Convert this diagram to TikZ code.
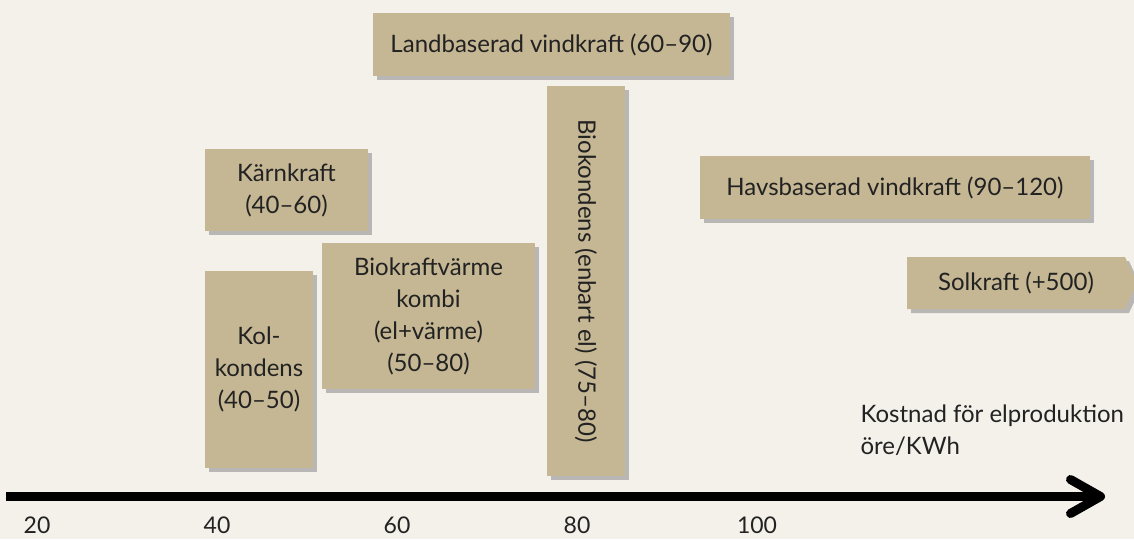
\documentclass[tikz,border=0pt]{standalone}
\usepackage{fontspec}
\setmainfont{Lato}
\usepackage{tikz}
\usetikzlibrary{arrows.meta, positioning, shapes.symbols, shadows}
\definecolor{paper}{HTML}{F4F1EA}
\definecolor{sand}{HTML}{C5B794}
\definecolor{ink}{HTML}{222222}

\begin{document}
\begin{tikzpicture}[x=1pt, y=-1pt, font=\fontsize{24}{32}\selectfont, text=ink,
  costbox/.style={fill=sand, inner sep=0pt, outer sep=0pt, align=center,
    drop shadow={shadow xshift=4pt, shadow yshift=-4pt, fill=gray!75, opacity=0.7}},
  ticklabel/.style={inner sep=0pt, font=\fontsize{23}{28}\selectfont}]
  % background and page size
  \fill[paper] (0,0) rectangle (1134,539);
  \useasboundingbox (0,0) rectangle (1134,539);
  % cost boxes
  \node[costbox, anchor=north west, minimum width=357pt, minimum height=63pt] (land) at (373,13)
    {Landbaserad vindkraft (60--90)};
  \node[costbox, anchor=north west, minimum width=163pt, minimum height=82pt] (karn) at (205,149)
    {Kärnkraft\\(40--60)};
  \node[costbox, anchor=north west, minimum width=108pt, minimum height=197pt] (kol) at (205,271)
    {Kol-\\kondens\\(40--50)};
  \node[costbox, anchor=north west, minimum width=213pt, minimum height=146pt] (biokv) at (322,243)
    {Biokraftvärme\\kombi\\(el+värme)\\(50--80)};
  \node[costbox, rotate=-90, minimum width=390pt, minimum height=78pt] (biokond) at (586,281)
    {Biokondens (enbart el) (75--80)};
  \node[costbox, anchor=north west, minimum width=390pt, minimum height=63pt] (havs) at (700,156)
    {Havsbaserad vindkraft (90--120)};
  \node[costbox, shape=signal, signal to=east, signal pointer angle=130,
    minimum width=230pt, minimum height=52pt] (sol) at (1016,283)
    {Solkraft (+500)};
  % axis
  \coordinate (axisstart) at (6,496.5);
  \coordinate (axisend) at (1105,496.5);
  \draw[line width=9pt, -{Straight Barb[length=30pt, width=34pt, round]}] (axisstart) -- (axisend);
  \node[anchor=west, align=left] (label) at (857,430) {Kostnad för elproduktion\\öre/KWh};
  \foreach \x/\t in {37/20, 217/40, 397/60, 577/80, 757/100} {
    \node[ticklabel] (t\t) at (\x,525) {\t};
  }
\end{tikzpicture}
\end{document}
